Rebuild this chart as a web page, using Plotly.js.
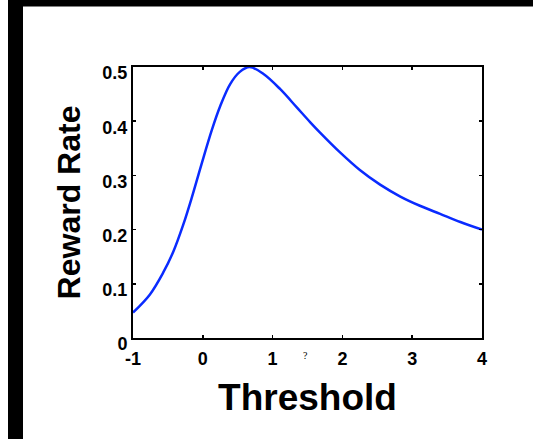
<!DOCTYPE html>
<html>
<head>
<meta charset="utf-8">
<script src="https://cdn.plot.ly/plotly-3.0.1.min.js"></script>
<style>
  html, body { margin: 0; padding: 0; background: #ffffff; }
  #chart { width: 533px; height: 439px; }
</style>
</head>
<body>
<div id="chart"></div>
<script>
// Reward rate as a function of the decision threshold
const threshold = [-1.0, -0.76, -0.57, -0.42, -0.28, -0.16, -0.02, 0.13, 0.25, 0.39, 0.53, 0.67,
                   0.87, 1.11, 1.35, 1.54, 1.68, 1.97, 2.25, 2.54, 2.83, 3.11, 3.40, 3.69, 4.0];
const rewardRate = [0.047, 0.080, 0.120, 0.160, 0.209, 0.258, 0.320, 0.384, 0.428, 0.468, 0.491, 0.500,
                    0.487, 0.459, 0.425, 0.398, 0.379, 0.342, 0.310, 0.283, 0.261, 0.244, 0.229, 0.214, 0.200];

const xTicks = [-1, 0, 1, 2, 3, 4];
const xTickText = ['-1', '0', '1', '2', '3', '4'];
const yTicks = [0, 0.1, 0.2, 0.3, 0.4, 0.5];
const yTickText = ['0', '0.1', '0.2', '0.3', '0.4', '0.5'];

const W = 533, H = 439;
const M = { l: 133, r: 51, t: 67, b: 101 };
const pw = W - M.l - M.r, ph = H - M.t - M.b;
// pixel -> paper helpers for the figure frame
const px = v => (v - M.l) / pw;
const py = v => (H - M.b - v) / ph;

const bold = { family: 'Liberation Sans, Arial, sans-serif', color: '#000000', weight: 'bold' };

const trace = {
  x: threshold,
  y: rewardRate,
  type: 'scatter',
  mode: 'lines',
  line: { color: '#0a2bff', width: 2.5, shape: 'spline', smoothing: 1 },
  hoverinfo: 'skip'
};

const axisCommon = {
  showgrid: false,
  zeroline: false,
  showline: true,
  linecolor: '#000000',
  linewidth: 2,
  mirror: 'ticks',
  ticks: 'inside',
  ticklen: 3,
  tickwidth: 1.5,
  tickcolor: '#000000',
  tickmode: 'array',
  automargin: false
};

const layout = {
  width: W,
  height: H,
  margin: M,
  paper_bgcolor: '#ffffff',
  plot_bgcolor: '#ffffff',
  showlegend: false,
  xaxis: Object.assign({}, axisCommon, {
    range: [-1, 4],
    tickvals: xTicks,
    ticktext: xTickText,
    ticklabelstandoff: 3,
    tickfont: Object.assign({}, bold, { size: 18 }),
    title: { text: 'Threshold', font: Object.assign({}, bold, { size: 37 }), standoff: 17 }
  }),
  yaxis: Object.assign({}, axisCommon, {
    range: [0, 0.5],
    tickvals: yTicks,
    ticktext: yTickText,
    ticklabelstandoff: 0,
    ticklabelshift: 6,
    tickfont: Object.assign({}, bold, { size: 18 }),
    title: { text: 'Reward Rate', font: Object.assign({}, bold, { size: 32 }), standoff: 12 }
  }),
  shapes: [
    // dark frame along the left and top edges of the figure
    { type: 'rect', xref: 'paper', yref: 'paper', layer: 'above',
      x0: px(8), x1: px(23), y0: py(H), y1: py(0),
      fillcolor: '#000000', line: { width: 0 } },
    { type: 'rect', xref: 'paper', yref: 'paper', layer: 'above',
      x0: px(8), x1: px(W), y0: py(6.5), y1: py(0),
      fillcolor: '#000000', line: { width: 0 } }
  ],
  annotations: [
    { text: '?', xref: 'paper', yref: 'paper', x: px(305), y: py(363),
      showarrow: false, font: { family: 'Liberation Serif, serif', size: 10, color: '#000000' } }
  ]
};

Plotly.newPlot('chart', [trace], layout, { staticPlot: true, displayModeBar: false });
</script>
</body>
</html>
